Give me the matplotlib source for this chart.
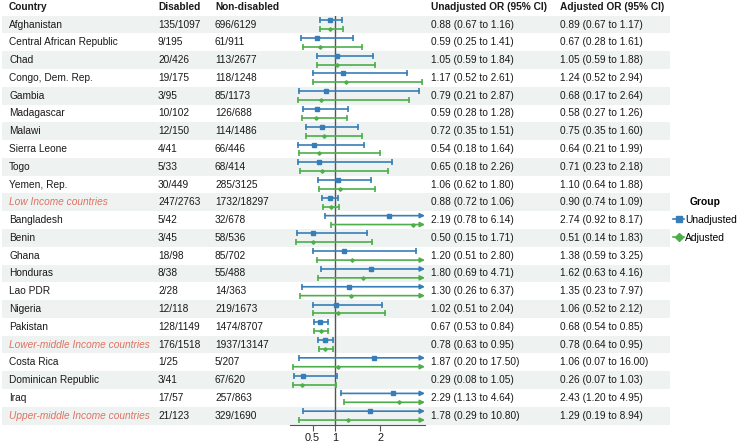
import matplotlib
matplotlib.use('Agg')
import matplotlib.pyplot as plt
from matplotlib import transforms
from matplotlib.patches import Rectangle
from matplotlib.lines import Line2D

plt.rcParams['font.family'] = ['Liberation Sans', 'DejaVu Sans']
plt.rcParams['font.size'] = 7.3

countries = ['Afghanistan', 'Central African Republic', 'Chad', 'Congo, Dem. Rep.',
             'Gambia', 'Madagascar', 'Malawi', 'Sierra Leone', 'Togo', 'Yemen, Rep.',
             'Low Income countries', 'Bangladesh', 'Benin', 'Ghana', 'Honduras',
             'Lao PDR', 'Nigeria', 'Pakistan', 'Lower-middle Income countries',
             'Costa Rica', 'Dominican Republic', 'Iraq', 'Upper-middle Income countries']
disabled = ['135/1097', '9/195', '20/426', '19/175', '3/95', '10/102', '12/150', '4/41',
            '5/33', '30/449', '247/2763', '5/42', '3/45', '18/98', '8/38', '2/28',
            '12/118', '128/1149', '176/1518', '1/25', '3/41', '17/57', '21/123']
nondisabled = ['696/6129', '61/911', '113/2677', '118/1248', '85/1173', '126/688',
               '114/1486', '66/446', '68/414', '285/3125', '1732/18297', '32/678',
               '58/536', '85/702', '55/488', '14/363', '219/1673', '1474/8707',
               '1937/13147', '5/207', '67/620', '257/863', '329/1690']
unadj_or = [0.88, 0.59, 1.05, 1.17, 0.79, 0.59, 0.72, 0.54, 0.65, 1.06, 0.88, 2.19, 0.50,
            1.20, 1.80, 1.30, 1.02, 0.67, 0.78, 1.87, 0.29, 2.29, 1.78]
unadj_lo = [0.67, 0.25, 0.59, 0.52, 0.21, 0.28, 0.35, 0.18, 0.18, 0.62, 0.72, 0.78, 0.15,
            0.51, 0.69, 0.26, 0.51, 0.53, 0.63, 0.20, 0.08, 1.13, 0.29]
unadj_hi = [1.16, 1.41, 1.84, 2.61, 2.87, 1.28, 1.51, 1.64, 2.26, 1.80, 1.06, 6.14, 1.71,
            2.80, 4.71, 6.37, 2.04, 0.84, 0.95, 17.50, 1.05, 4.64, 10.80]
adj_or = [0.89, 0.67, 1.05, 1.24, 0.68, 0.58, 0.75, 0.64, 0.71, 1.10, 0.90, 2.74, 0.51,
          1.38, 1.62, 1.35, 1.06, 0.68, 0.78, 1.06, 0.26, 2.43, 1.29]
adj_lo = [0.67, 0.28, 0.59, 0.52, 0.17, 0.27, 0.35, 0.21, 0.23, 0.64, 0.74, 0.92, 0.14,
          0.59, 0.63, 0.23, 0.52, 0.54, 0.64, 0.07, 0.07, 1.20, 0.19]
adj_hi = [1.17, 1.61, 1.88, 2.94, 2.64, 1.26, 1.60, 1.99, 2.18, 1.88, 1.09, 8.17, 1.83,
          3.25, 4.16, 7.97, 2.12, 0.85, 0.95, 16.00, 1.03, 4.95, 8.94]
subtotals = ['Low Income countries', 'Lower-middle Income countries',
             'Upper-middle Income countries']
xticks = [0.5, 1, 2]
xmax = 3

W, H = 740, 443
fig = plt.figure(figsize=(W / 100, H / 100), dpi=100)
top_px, bot_px = 15.7, 424.5
ax = fig.add_axes([290 / W, 1 - bot_px / H, 135 / W, (bot_px - top_px) / H])
ax.patch.set_visible(False)
n = len(countries)
ax.set_xlim(0, xmax)
ax.set_ylim(n - 0.5, -0.5)

blend = transforms.blended_transform_factory(fig.transFigure, ax.transData)
txt = '#1a1a1a'
blue = '#377EB8'
green = '#4DAF4A'
red = '#E07262'

# shaded bands
for i in range(0, n, 2):
    ax.add_patch(Rectangle((2 / W, i - 0.5), 668 / W, 1, transform=blend,
                           facecolor='#EEF2F0', edgecolor='none', zorder=0, clip_on=False))

# headers
cols = [9, 158, 215, 431, 560]
heads = ['Country', 'Disabled', 'Non-disabled', 'Unadjusted OR (95% CI)', 'Adjusted OR (95% CI)']
for x, h in zip(cols, heads):
    ax.text(x / W, -1, h, transform=blend, ha='left', va='center',
            fontweight='bold', color=txt, clip_on=False)

# table text
for i in range(n):
    sub = countries[i] in subtotals
    ax.text(cols[0] / W, i, countries[i], transform=blend, ha='left', va='center',
            color=red if sub else txt, style='italic' if sub else 'normal')
    ax.text(cols[1] / W, i, disabled[i], transform=blend, ha='left', va='center', color=txt)
    ax.text(cols[2] / W, i, nondisabled[i], transform=blend, ha='left', va='center', color=txt)
    ax.text(cols[3] / W, i, '%.2f (%.2f to %.2f)' % (unadj_or[i], unadj_lo[i], unadj_hi[i]),
            transform=blend, ha='left', va='center', color=txt)
    ax.text(cols[4] / W, i, '%.2f (%.2f to %.2f)' % (adj_or[i], adj_lo[i], adj_hi[i]),
            transform=blend, ha='left', va='center', color=txt)

# reference line
ax.axvline(1, color='#555555', lw=1, zorder=1)


def draw_ci(y, est, lo, hi, col, mk, ms):
    if hi > xmax:
        ax.annotate('', xy=(xmax, y), xytext=(lo, y),
                    arrowprops=dict(arrowstyle='-|>', color=col, lw=1.2,
                                    mutation_scale=7, shrinkA=0, shrinkB=0), zorder=3)
        ax.plot([lo], [y], marker='|', color=col, ms=4, mew=1.2, zorder=3)
    else:
        ax.plot([lo, hi], [y, y], color=col, lw=1.2, marker='|', ms=4, mew=1.2, zorder=3)
    if est <= xmax:
        ax.plot([est], [y], marker=mk, color=col, ms=ms, zorder=4, lw=0)


for i in range(n):
    draw_ci(i - 0.25, unadj_or[i], unadj_lo[i], unadj_hi[i], blue, 's', 3.2)
    draw_ci(i + 0.25, adj_or[i], adj_lo[i], adj_hi[i], green, 'D', 1.8)

for s in ['left', 'top', 'right']:
    ax.spines[s].set_visible(False)
ax.spines['bottom'].set_color('#555555')
ax.set_yticks([])
ax.set_xticks(xticks)
ax.set_xticklabels(['0.5', '1', '2'])
ax.tick_params(axis='x', length=4, color='#555555', labelcolor=txt, labelsize=7.8, pad=2)

handles = [Line2D([], [], color=blue, marker='s', ms=5, lw=1.2),
           Line2D([], [], color=green, marker='D', ms=4, lw=1.2)]
fig.legend(handles, ['Unadjusted', 'Adjusted'], title='Group', loc='center left',
           bbox_to_anchor=(673 / W, 1 - 220 / H), frameon=False, fontsize=7.4,
           title_fontproperties={'weight': 'bold', 'size': 7.4},
           handlelength=1.1, handletextpad=0.1, labelspacing=0.75, borderpad=0,
           borderaxespad=0)

fig.savefig('out.png', dpi=100)
